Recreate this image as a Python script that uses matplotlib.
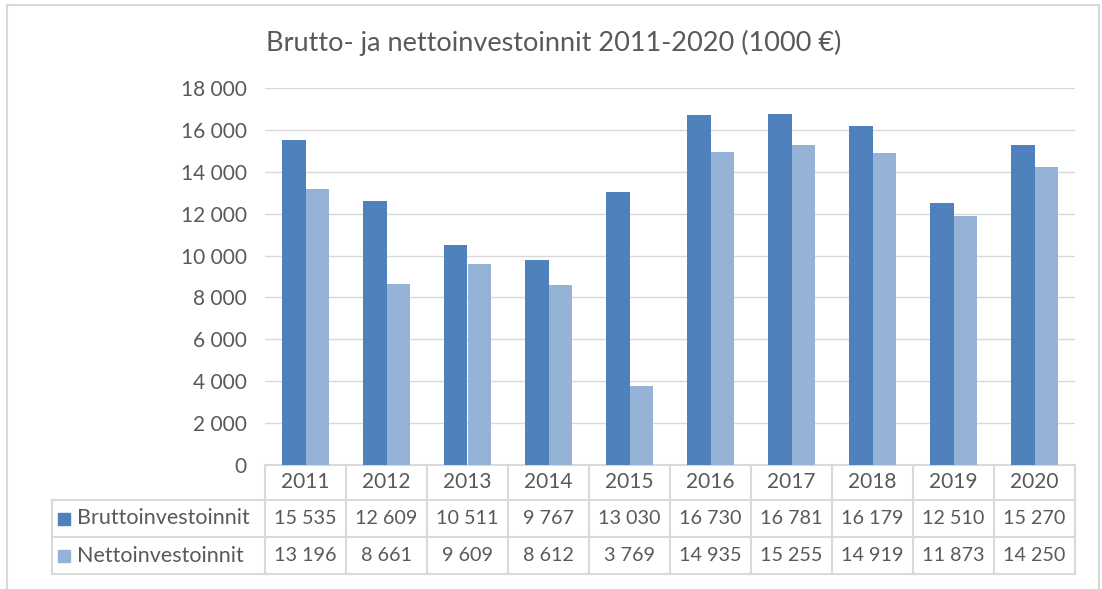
import matplotlib.pyplot as plt
import matplotlib.transforms as mtransforms
from matplotlib.patches import Rectangle
import numpy as np

plt.rcParams['font.family'] = ['Lato', 'DejaVu Sans']

# data
years = ['2011', '2012', '2013', '2014', '2015', '2016', '2017', '2018', '2019', '2020']
brutto = [15535, 12609, 10511, 9767, 13030, 16730, 16781, 16179, 12510, 15270]
netto = [13196, 8661, 9609, 8612, 3769, 14935, 15255, 14919, 11873, 14250]
series_names = ['Bruttoinvestoinnit', 'Nettoinvestoinnit']
colors = ['#4F81BD', '#95B3D7']
text_col = '#595959'
line_col = '#D9D9D9'


def fmt(v):
    return '{:,}'.format(int(v)).replace(',', ' ')


W, H = 1102, 589
fig = plt.figure(figsize=(W / 100, H / 100), dpi=100)
ax = fig.add_axes([265 / W, 1 - 465 / H, (1075 - 265) / W, (465 - 88) / H])

x = np.arange(len(years))
bw = 0.285
ax.bar(x - bw / 2, brutto, bw, color=colors[0], zorder=3)
ax.bar(x + bw / 2, netto, bw, color=colors[1], zorder=3)

ax.set_xlim(-0.5, len(years) - 0.5)
ax.set_ylim(0, 18000)
ax.set_yticks(np.arange(0, 18001, 2000))
ax.set_yticklabels([fmt(v) for v in np.arange(0, 18001, 2000)], color=text_col, fontsize=15)
ax.yaxis.grid(True, color=line_col, lw=1, zorder=0)
ax.tick_params(axis='y', length=0, pad=13)
ax.set_xticks([])
for s in ax.spines.values():
    s.set_visible(False)

ax.set_title('Brutto- ja nettoinvestoinnit 2011-2020 (1000 €)', color=text_col,
             fontsize=19.5, x=(554 - 265) / (1075 - 265), pad=27)

# data table under the axes
tr = mtransforms.blended_transform_factory(ax.transData, ax.transAxes)
axh = 465 - 88
rows_y = [0, -35 / axh, -72 / axh, -109 / axh]
left = -0.5 - 213 / 81
kw = dict(color=line_col, lw=1.5, transform=tr, clip_on=False)

ax.plot([-0.5, len(years) - 0.5], [rows_y[0]] * 2, **kw)
for yy in rows_y[1:]:
    ax.plot([left, len(years) - 0.5], [yy] * 2, **kw)
for i in range(len(years) + 1):
    ax.plot([i - 0.5, i - 0.5], [rows_y[0], rows_y[3]], **kw)
ax.plot([left, left], [rows_y[1], rows_y[3]], **kw)

for i, yr in enumerate(years):
    ax.text(i, (rows_y[0] + rows_y[1]) / 2, yr, transform=tr, ha='center', va='center',
            color=text_col, fontsize=15)
for r, vals in enumerate([brutto, netto]):
    yc = (rows_y[r + 1] + rows_y[r + 2]) / 2
    for i, v in enumerate(vals):
        ax.text(i, yc, fmt(v), transform=tr, ha='center', va='center',
                color=text_col, fontsize=14.2)
    ax.add_patch(Rectangle((left + 6 / 81, yc - 6 / axh), 12 / 81, 12 / axh,
                           color=colors[r], transform=tr, clip_on=False))
    ax.text(left + 25 / 81, yc, series_names[r], transform=tr, ha='left', va='center',
            color=text_col, fontsize=15.5)

# outer frame
fig.patches.append(Rectangle((7 / W, -0.01), (1099 - 7) / W, 1 - 5 / H + 0.01,
                             transform=fig.transFigure, fill=False,
                             edgecolor=line_col, lw=1.5))

fig.savefig('out.png', dpi=100)
